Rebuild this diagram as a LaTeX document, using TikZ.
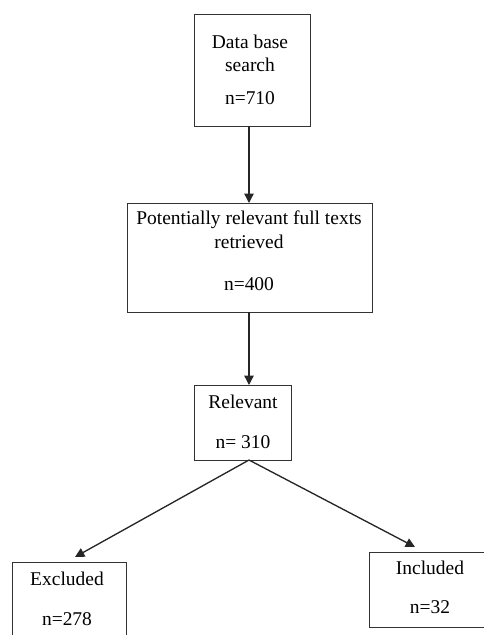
\documentclass[tikz,border=0pt]{standalone}
\usepackage{fontspec}
\setmainfont{Liberation Serif}
\usetikzlibrary{arrows.meta}
\begin{document}
\begin{tikzpicture}[x=0.75pt,y=-0.75pt,
  box/.style={draw=black!80,line width=0.75pt,inner sep=0pt,fill=white},
  txt/.style={inner sep=0pt,font=\fontsize{14.6}{17}\selectfont,text=black},
  conn/.style={draw=black!85,line width=1pt,-{Triangle[length=7pt,width=7pt]}}]
\useasboundingbox (0,0) rectangle (484,635);
\clip (0,0) rectangle (484,635);
% boxes
\node[box,minimum width=87pt,minimum height=83.25pt] (b1) at (252,70.5) {};
\node[box,minimum width=183.75pt,minimum height=81.75pt] (b2) at (249.5,257.5) {};
\node[box,minimum width=72.75pt,minimum height=56.25pt] (b3) at (242.5,422.5) {};
\node[box,minimum width=85.5pt,minimum height=73.5pt] (b4) at (69,611) {};
\node[box,minimum width=92.25pt,minimum height=56.25pt] (b5) at (430.5,589.5) {};
% texts
\node[txt] (t1a) at (250,42) {Data base};
\node[txt] (t1b) at (250,65) {search};
\node[txt] (t1c) at (250,98) {n=710};
\node[txt] (t2a) at (249,220) {Potentially relevant full texts};
\node[txt] (t2b) at (249,242) {retrieved};
\node[txt] (t2c) at (249,284) {n=400};
\node[txt] (t3a) at (243,402) {Relevant};
\node[txt] (t3b) at (243,442) {n= 310};
\node[txt] (t4a) at (67,579) {Excluded};
\node[txt] (t4b) at (67,619) {n=278};
\node[txt] (t5a) at (430,568) {Included};
\node[txt] (t5b) at (430,607) {n=32};
% connector anchors
\coordinate (s1) at (249,126);
\coordinate (e1) at (249,203);
\coordinate (s2) at (249,312);
\coordinate (e2) at (249,385);
\coordinate (s3) at (249,460);
\coordinate (e4) at (75,557);
\coordinate (e5) at (415,547);
\draw[conn] (s1) -- (e1);
\draw[conn] (s2) -- (e2);
\draw[conn] (s3) -- (e4);
\draw[conn] (s3) -- (e5);
\end{tikzpicture}
\end{document}
